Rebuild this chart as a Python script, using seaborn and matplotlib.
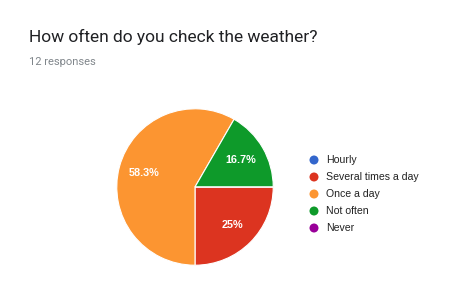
import matplotlib
matplotlib.use("Agg")
import matplotlib.pyplot as plt
import seaborn as sns

categories = ["Hourly", "Several times a day", "Once a day", "Not often", "Never"]
counts = [0, 3, 7, 2, 0]
colors = ["#3366cc", "#dc3420", "#fc9531", "#0e9a2a", "#990099"]
title = "How often do you check the weather?"
subtitle = "12 responses"

sns.set_theme(style="white")
plt.rcParams['font.family'] = ['Liberation Sans', 'DejaVu Sans']

W, H = 460, 294
fig = plt.figure(figsize=(W / 100, H / 100), dpi=100)
fig.patch.set_facecolor("white")

fig.text(29 / W, 1 - 37 / H, title, fontsize=12.5, family=['Roboto', 'DejaVu Sans'],
         color="#202124", va="center", ha="left")
fig.text(29 / W, 1 - 62 / H, subtitle, fontsize=8, family=['Roboto', 'DejaVu Sans'],
         color="#80868b", va="center", ha="left")

cx, cy, r = 195, 187, 79
ax = fig.add_axes([(cx - r) / W, (H - cy - r) / H, 2 * r / W, 2 * r / H])


def fmt(p):
    if p < 0.5:
        return ""
    s = f"{p:.1f}"
    if s.endswith(".0"):
        s = s[:-2]
    return s + "%"


wedges, texts, autotexts = ax.pie(
    counts, colors=colors, startangle=0, counterclock=False,
    autopct=fmt, pctdistance=0.68, radius=1,
    wedgeprops=dict(edgecolor="white", linewidth=0.8),
    textprops=dict(color="white", fontsize=7.8, fontweight="bold"))
ax.set_xlim(-1.01, 1.01)
ax.set_ylim(-1.01, 1.01)
ax.set_aspect("equal")
ax.axis("off")

# legend
ys = [160, 177, 194, 211, 228]
for cat, col, y in zip(categories, colors, ys):
    fig.patches.append(matplotlib.patches.Ellipse(
        (314 / W, 1 - y / H), 9 / W, 9 / H, transform=fig.transFigure,
        facecolor=col, edgecolor="none"))
    fig.text(326 / W, 1 - y / H, cat, fontsize=7.6, color="#222222",
             va="center", ha="left")

fig.savefig("out.png", dpi=100, facecolor="white")
